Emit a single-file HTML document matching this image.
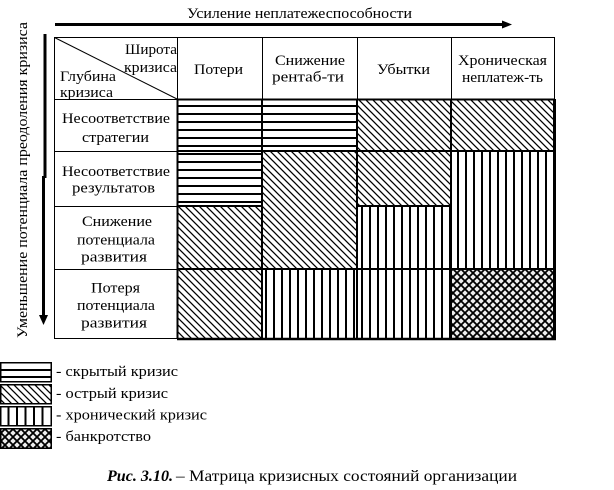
<!DOCTYPE html>
<html>
<head>
<meta charset="utf-8">
<style>
  html, body { margin: 0; padding: 0; background: #fff; }
  svg { display: block; }
  text { font-family: "Liberation Serif", "DejaVu Serif", serif; fill: #000; }
</style>
</head>
<body>
<svg width="614" height="490" viewBox="0 0 614 490" xmlns="http://www.w3.org/2000/svg">
  <defs>
    <pattern id="hor" patternUnits="userSpaceOnUse" x="0" y="1" width="8" height="8">
      <rect x="0" y="0" width="8" height="2" fill="#000"/>
    </pattern>
    <pattern id="ver" patternUnits="userSpaceOnUse" x="1" y="0" width="8" height="8">
      <rect x="0" y="0" width="2" height="8" fill="#000"/>
    </pattern>
    <pattern id="diag" patternUnits="userSpaceOnUse" x="0" y="0" width="7" height="7">
      <path d="M-1,-1 L8,8 M-1,6 L1,8 M6,-1 L8,1" stroke="#000" stroke-width="1.3"/>
    </pattern>
    <pattern id="cross" patternUnits="userSpaceOnUse" x="1" y="1" width="8" height="8">
      <rect x="0" y="0" width="8" height="8" fill="#eee"/>
      <path d="M-1,-1 L9,9 M-1,9 L9,-1 M-1,7 L1,9 M7,-1 L9,1 M-1,1 L1,-1 M7,9 L9,7" stroke="#000" stroke-width="1.8"/>
    </pattern>
  </defs>

  <!-- Title + top arrow -->
  <text x="187" y="18" font-size="15" textLength="225" lengthAdjust="spacingAndGlyphs">Усиление неплатежеспособности</text>
  <line x1="55" y1="24.5" x2="504" y2="24.5" stroke="#000" stroke-width="3"/>
  <polygon points="502,20.5 512,24.5 502,28.5" fill="#000"/>

  <!-- Vertical text + arrow -->
  <text transform="translate(27,338) rotate(-90)" font-size="15" textLength="316" lengthAdjust="spacingAndGlyphs">Уменьшение потенциала преодоления кризиса</text>
  <line x1="45" y1="34" x2="45" y2="178" stroke="#000" stroke-width="3"/>
  <line x1="43.5" y1="176" x2="43.5" y2="318" stroke="#000" stroke-width="3"/>
  <polygon points="39,315 43.5,325 48,315" fill="#000"/>

  <!-- Hatched blocks -->
  <rect x="177" y="99" width="180" height="52" fill="url(#hor)"/>
  <rect x="177" y="151" width="85" height="55" fill="url(#hor)"/>
  <rect x="357" y="99" width="198" height="52" fill="url(#diag)"/>
  <rect x="262" y="151" width="189" height="55" fill="url(#diag)"/>
  <rect x="262" y="206" width="95" height="63" fill="url(#diag)"/>
  <rect x="177" y="206" width="85" height="133" fill="url(#diag)"/>
  <rect x="357" y="206" width="94" height="133" fill="url(#ver)"/>
  <rect x="451" y="151" width="104" height="118" fill="url(#ver)"/>
  <rect x="262" y="269" width="95" height="70" fill="url(#ver)"/>
  <rect x="451" y="269" width="104" height="70" fill="url(#cross)"/>

  <!-- Thin grid for text cells -->
  <g stroke="#000" stroke-width="1" fill="none">
    <rect x="54.5" y="37.5" width="500" height="301"/>
    <line x1="54.5" y1="37.5" x2="177" y2="99"/>
    <line x1="177.5" y1="37" x2="177.5" y2="99"/>
    <line x1="262.5" y1="37" x2="262.5" y2="99"/>
    <line x1="357.5" y1="37" x2="357.5" y2="99"/>
    <line x1="451.5" y1="37" x2="451.5" y2="99"/>
    <line x1="54" y1="99.5" x2="177" y2="99.5"/>
    <line x1="54" y1="151.5" x2="177" y2="151.5"/>
    <line x1="54" y1="206.5" x2="177" y2="206.5"/>
    <line x1="54" y1="269.5" x2="177" y2="269.5"/>
  </g>

  <!-- Thick block borders -->
  <g stroke="#000" stroke-width="2" fill="none">
    <line x1="177" y1="99.5" x2="555" y2="99.5"/>
    <line x1="177" y1="151" x2="555" y2="151"/>
    <line x1="177" y1="206" x2="262" y2="206"/>
    <line x1="357" y1="206" x2="451" y2="206"/>
    <line x1="177" y1="269" x2="451" y2="269"/>
    <line x1="451" y1="269" x2="555" y2="269"/>
    <line x1="177.5" y1="99" x2="177.5" y2="339"/>
    <line x1="262" y1="99" x2="262" y2="339"/>
    <line x1="357" y1="99" x2="357" y2="339"/>
    <line x1="451" y1="99" x2="451" y2="339"/>
  </g>
  <line x1="554.5" y1="99" x2="554.5" y2="340" stroke="#000" stroke-width="3"/>
  <line x1="177" y1="339" x2="556" y2="339" stroke="#000" stroke-width="2.5"/>

  <!-- Header texts -->
  <text x="125" y="54" font-size="15" textLength="52" lengthAdjust="spacingAndGlyphs">Широта</text>
  <text x="124" y="72" font-size="15" textLength="53" lengthAdjust="spacingAndGlyphs">кризиса</text>
  <text x="60" y="81" font-size="15" textLength="56" lengthAdjust="spacingAndGlyphs">Глубина</text>
  <text x="60" y="97" font-size="15" textLength="53" lengthAdjust="spacingAndGlyphs">кризиса</text>

  <text x="194" y="74" font-size="15" textLength="49" lengthAdjust="spacingAndGlyphs">Потери</text>
  <text x="275" y="65" font-size="15" textLength="70" lengthAdjust="spacingAndGlyphs">Снижение</text>
  <text x="272" y="81.5" font-size="15" textLength="72" lengthAdjust="spacingAndGlyphs">рентаб-ти</text>
  <text x="377" y="74" font-size="15" textLength="53" lengthAdjust="spacingAndGlyphs">Убытки</text>
  <text x="458" y="65" font-size="15" textLength="89" lengthAdjust="spacingAndGlyphs">Хроническая</text>
  <text x="462" y="82" font-size="15" textLength="81" lengthAdjust="spacingAndGlyphs">неплатеж-ть</text>

  <!-- Row labels -->
  <text x="62" y="123" font-size="15" textLength="108" lengthAdjust="spacingAndGlyphs">Несоответствие</text>
  <text x="82" y="142" font-size="15" textLength="67" lengthAdjust="spacingAndGlyphs">стратегии</text>
  <text x="62" y="176" font-size="15" textLength="108" lengthAdjust="spacingAndGlyphs">Несоответствие</text>
  <text x="72" y="192.5" font-size="15" textLength="83" lengthAdjust="spacingAndGlyphs">результатов</text>
  <text x="82" y="226" font-size="15" textLength="70" lengthAdjust="spacingAndGlyphs">Снижение</text>
  <text x="77" y="244.5" font-size="15" textLength="78" lengthAdjust="spacingAndGlyphs">потенциала</text>
  <text x="81" y="261.5" font-size="15" textLength="66" lengthAdjust="spacingAndGlyphs">развития</text>
  <text x="91" y="292.5" font-size="15" textLength="49" lengthAdjust="spacingAndGlyphs">Потеря</text>
  <text x="77" y="310" font-size="15" textLength="78" lengthAdjust="spacingAndGlyphs">потенциала</text>
  <text x="81" y="327.5" font-size="15" textLength="66" lengthAdjust="spacingAndGlyphs">развития</text>

  <!-- Legend boxes -->
  <rect x="0.75" y="362.75" width="50.5" height="19" fill="#fff" stroke="#000" stroke-width="1.5"/>
  <rect x="0" y="369" width="52" height="2" fill="#000"/>
  <rect x="0" y="376" width="52" height="2" fill="#000"/>

  <rect x="0.75" y="384.75" width="50.5" height="19" fill="url(#diag)" stroke="#000" stroke-width="1.5"/>

  <rect x="0.75" y="406.75" width="50.5" height="19" fill="#fff" stroke="#000" stroke-width="1.5"/>
  <rect x="7.5" y="406" width="2" height="20" fill="#000"/>
  <rect x="16" y="406" width="2" height="20" fill="#000"/>
  <rect x="24.5" y="406" width="2" height="20" fill="#000"/>
  <rect x="33" y="406" width="2" height="20" fill="#000"/>
  <rect x="41.5" y="406" width="2" height="20" fill="#000"/>

  <rect x="0.75" y="428.75" width="50.5" height="19.5" fill="url(#cross)" stroke="#000" stroke-width="1.5"/>

  <!-- Legend text -->
  <text x="56" y="376" font-size="14.5" textLength="122" lengthAdjust="spacingAndGlyphs">- скрытый кризис</text>
  <text x="56" y="398" font-size="14.5" textLength="112" lengthAdjust="spacingAndGlyphs">- острый кризис</text>
  <text x="56" y="419.5" font-size="14.5" textLength="151" lengthAdjust="spacingAndGlyphs">- хронический кризис</text>
  <text x="56" y="441" font-size="14.5" textLength="95" lengthAdjust="spacingAndGlyphs">- банкротство</text>

  <!-- Caption -->
  <text x="107" y="481" font-size="16" font-weight="bold" font-style="italic" textLength="66" lengthAdjust="spacingAndGlyphs">Рис. 3.10.</text>
  <text x="176" y="481" font-size="16" textLength="341" lengthAdjust="spacingAndGlyphs">– Матрица кризисных состояний организации</text>
</svg>
</body>
</html>
